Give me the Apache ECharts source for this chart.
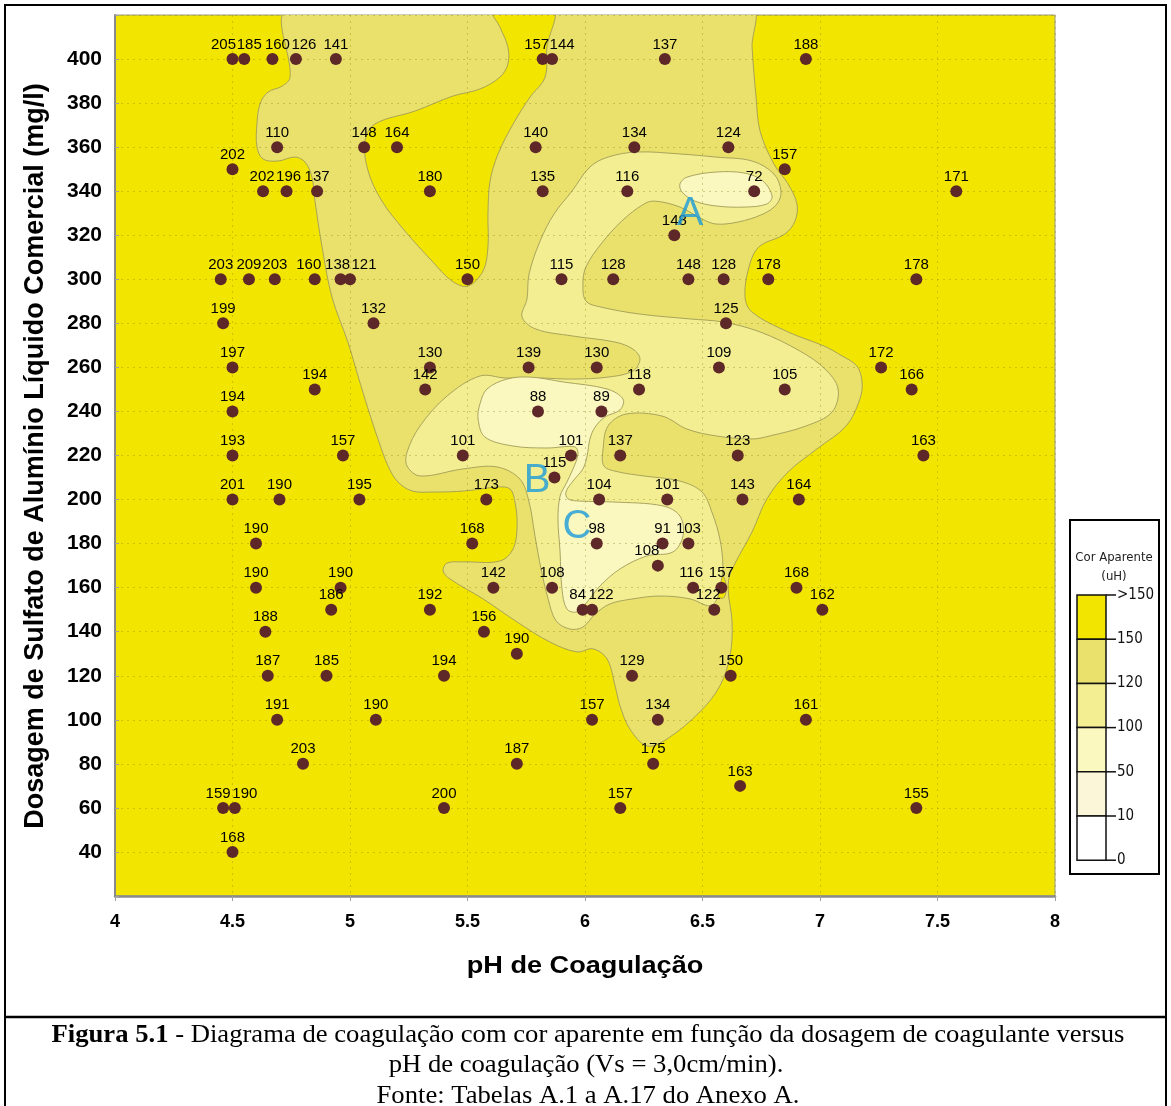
<!DOCTYPE html>
<html>
<head>
<meta charset="utf-8">
<script src="https://cdn.jsdelivr.net/npm/echarts@6/dist/echarts.min.js"></script>
<style>
  html, body { margin: 0; padding: 0; background: #ffffff; }
  #chart { width: 1171px; height: 1106px; }
</style>
</head>
<body>
<div id="chart"></div>
<script>
// ---- Ensaios: pH de coagulação, dosagem (mg/l) e cor aparente (uH) ----
const samplePH = [
  4.50, 4.55, 4.67, 4.77, 4.94, 5.82, 5.86, 6.34, 6.94,          // 400
  4.69, 5.06, 5.20, 5.79, 6.21, 6.61,                            // 360
  4.50, 6.85,                                                    // 350
  4.63, 4.73, 4.86, 5.34, 5.82, 6.18, 6.72, 7.58,                // 340
  6.38,                                                          // 320
  4.45, 4.57, 4.68, 4.85, 4.96, 5.00, 5.50, 5.90, 6.12, 6.44, 6.59, 6.78, 7.41, // 300
  4.46, 5.10, 6.60,                                              // 280
  4.50, 5.34, 5.76, 6.05, 6.57, 7.26,                            // 260
  4.85, 5.32, 6.23, 6.85, 7.39,                                  // 250
  4.50, 5.80, 6.07,                                              // 240
  4.50, 4.97, 5.48, 5.94, 6.15, 6.65, 7.44,                      // 220
  5.87,                                                          // 210
  4.50, 4.70, 5.04, 5.58, 6.06, 6.35, 6.67, 6.91,                // 200
  4.60, 5.52, 6.05, 6.33, 6.44,                                  // 180
  6.31,                                                          // 170
  4.60, 4.96, 5.61, 5.86, 6.46, 6.58, 6.90,                      // 160
  4.92, 5.34, 5.99, 6.03, 6.55, 7.01,                            // 150
  4.64, 5.57,                                                    // 140
  5.71,                                                          // 130
  4.65, 4.90, 5.40, 6.20, 6.62,                                  // 120
  4.69, 5.11, 6.03, 6.31, 6.94,                                  // 100
  4.80, 5.71, 6.29,                                              // 80
  6.66,                                                          // 70
  4.46, 4.51, 5.40, 6.15, 7.41,                                  // 60
  4.50                                                           // 40
];
const sampleDose = [
  400, 400, 400, 400, 400, 400, 400, 400, 400,
  360, 360, 360, 360, 360, 360,
  350, 350,
  340, 340, 340, 340, 340, 340, 340, 340,
  320,
  300, 300, 300, 300, 300, 300, 300, 300, 300, 300, 300, 300, 300,
  280, 280, 280,
  260, 260, 260, 260, 260, 260,
  250, 250, 250, 250, 250,
  240, 240, 240,
  220, 220, 220, 220, 220, 220, 220,
  210,
  200, 200, 200, 200, 200, 200, 200, 200,
  180, 180, 180, 180, 180,
  170,
  160, 160, 160, 160, 160, 160, 160,
  150, 150, 150, 150, 150, 150,
  140, 140,
  130,
  120, 120, 120, 120, 120,
  100, 100, 100, 100, 100,
  80, 80, 80,
  70,
  60, 60, 60, 60, 60,
  40
];
const sampleColor = [
  205, 185, 160, 126, 141, 157, 144, 137, 188,
  110, 148, 164, 140, 134, 124,
  202, 157,
  202, 196, 137, 180, 135, 116, 72, 171,
  148,
  203, 209, 203, 160, 138, 121, 150, 115, 128, 148, 128, 178, 178,
  199, 132, 125,
  197, 130, 139, 130, 109, 172,
  194, 142, 118, 105, 166,
  194, 88, 89,
  193, 157, 101, 101, 137, 123, 163,
  115,
  201, 190, 195, 173, 104, 101, 143, 164,
  190, 168, 98, 91, 103,
  108,
  190, 190, 142, 108, 116, 157, 168,
  186, 192, 84, 122, 122, 162,
  188, 156,
  190,
  187, 185, 194, 129, 150,
  191, 190, 157, 134, 161,
  203, 187, 175,
  163,
  159, 190, 200, 157, 155,
  168
];

// ---- Isolinhas de cor aparente, [pH, dosagem] ----
// limite da faixa <= 150 uH
const iso150Outline = [
  [4.745, 423], [4.745, 391.8], [4.711, 387.7], [4.651, 385.0], [4.617, 379.6], [4.604, 370.5],
  [4.604, 360.1], [4.630, 354.6], [4.694, 353.7], [4.766, 355.5], [4.809, 353.2], [4.838, 346.4],
  [4.851, 335.5], [4.881, 314.7], [4.923, 292.0], [4.991, 271.5], [5.034, 256.1], [5.077, 241.1],
  [5.119, 227.5], [5.162, 215.2], [5.204, 208.0], [5.264, 203.9], [5.349, 203.4], [5.489, 203.9],
  [5.630, 205.7], [5.681, 204.8], [5.702, 198.9], [5.711, 188.0], [5.694, 177.6], [5.638, 172.1],
  [5.481, 171.7], [5.413, 171.2], [5.396, 167.6], [5.426, 163.9], [5.566, 154.9], [5.711, 144.4],
  [5.851, 135.3], [5.966, 130.8], [6.034, 132.2], [6.094, 127.6], [6.128, 115.4], [6.149, 106.3],
  [6.191, 95.8], [6.264, 88.1], [6.349, 91.3], [6.489, 103.6], [6.574, 115.4], [6.617, 129.0],
  [6.626, 144.4], [6.609, 159.4], [6.621, 167.1], [6.711, 185.3], [6.774, 200.3], [6.864, 212.5],
  [6.987, 223.0], [7.111, 233.4], [7.170, 245.7], [7.179, 253.4], [7.157, 260.6], [7.094, 265.2],
  [7.017, 269.7], [6.864, 276.1], [6.711, 285.1], [6.681, 292.0], [6.698, 305.6], [6.740, 314.7],
  [6.851, 320.6], [6.894, 326.5], [6.902, 334.2], [6.864, 343.3], [6.804, 352.3], [6.745, 367.3],
  [6.728, 382.7], [6.711, 405.4], [6.704, 423]
];
// faixa > 150 uH que desce do topo entre pH 5,1 e 5,9
const iso150Tongue = [
  [5.603, 423], [5.638, 414.5], [5.672, 405.4], [5.672, 397.7], [5.638, 391.8], [5.553, 386.4],
  [5.438, 383.2], [5.277, 376.4], [5.106, 370.5], [5.064, 362.8], [5.077, 349.2], [5.136, 335.5],
  [5.234, 321.9], [5.349, 308.3], [5.434, 299.2], [5.502, 296.9], [5.566, 303.8], [5.587, 314.7],
  [5.587, 329.6], [5.596, 344.6], [5.630, 356.9], [5.694, 370.5], [5.766, 382.7], [5.830, 391.8],
  [5.838, 405.4], [5.864, 423]
];
// pequena ilha > 150 uH junto ao ensaio de 157 uH
const iso150Spot = [
  [6.548, 160.5], [6.560, 164.5], [6.585, 165.5], [6.600, 161], [6.592, 155.5], [6.566, 155.8]
];
// limite da faixa <= 120 uH
const iso120Outline = [
  [6.221, 357.8], [6.404, 356.9], [6.557, 355.5], [6.711, 353.7], [6.804, 347.8], [6.834, 340.1],
  [6.817, 334.2], [6.757, 329.6], [6.651, 326.0], [6.557, 325.1], [6.498, 327.4], [6.404, 332.8],
  [6.298, 335.5], [6.251, 334.2], [6.157, 326.5], [6.068, 316.0], [6.004, 305.6], [5.991, 297.9],
  [6.004, 290.1], [6.068, 287.4], [6.234, 284.2], [6.447, 282.0], [6.587, 280.6], [6.745, 276.1],
  [6.915, 267.4], [7.021, 259.3], [7.077, 250.2], [7.051, 239.7], [6.940, 233.4], [6.787, 228.9],
  [6.711, 227.5], [6.557, 228.9], [6.434, 232.0], [6.328, 237.9], [6.174, 238.8], [6.098, 233.4],
  [6.077, 223.0], [6.081, 215.2], [6.145, 212.5], [6.251, 210.7], [6.404, 208.4], [6.498, 203.4],
  [6.540, 194.3], [6.574, 182.1], [6.587, 169.8], [6.579, 162.6], [6.562, 154.9], [6.532, 151.7],
  [6.447, 154.9], [6.319, 156.2], [6.204, 154.9], [6.106, 152.6], [6.043, 148.0], [5.991, 142.1],
  [5.936, 141.2], [5.877, 144.9], [5.843, 154.9], [5.813, 168.5], [5.787, 183.5], [5.762, 198.9],
  [5.723, 209.3], [5.626, 214.8], [5.481, 213.9], [5.298, 210.7], [5.243, 215.2], [5.243, 221.6],
  [5.298, 233.4], [5.413, 247.0], [5.553, 256.1], [5.660, 255.2], [5.809, 255.2], [5.945, 254.7],
  [6.098, 255.6], [6.204, 258.4], [6.234, 263.8], [6.204, 268.3], [6.128, 271.5], [5.945, 274.3],
  [5.791, 277.4], [5.732, 282.9], [5.753, 291.0], [5.762, 302.4], [5.809, 317.4], [5.868, 329.6],
  [5.945, 340.1], [6.021, 351.0], [6.098, 355.5]
];
// faixas <= 100 uH
const iso100Oval = [
  [6.404, 343.3], [6.434, 346.4], [6.557, 348.7], [6.681, 348.2], [6.757, 344.6], [6.796, 337.8],
  [6.774, 334.2], [6.681, 332.8], [6.557, 333.3], [6.468, 335.5], [6.413, 339.6]
];
const iso100Lobe = [
  [5.553, 243.4], [5.583, 250.2], [5.668, 254.7], [5.766, 255.6], [5.906, 253.4], [6.094, 250.2],
  [6.162, 245.6], [6.149, 240.7], [6.085, 237.5], [6.043, 232.9], [6.021, 227.5], [6.009, 219.8],
  [5.991, 213.9], [5.949, 208.4], [5.919, 203.4], [5.928, 200.3], [5.979, 199.3], [6.119, 198.9],
  [6.332, 197.1], [6.404, 192.5], [6.417, 183.5], [6.374, 176.2], [6.264, 174.4], [6.149, 168.5],
  [6.064, 160.8], [6.009, 153.5], [5.966, 149.0], [5.923, 150.3], [5.902, 159.4], [5.894, 176.2],
  [5.885, 191.2], [5.894, 201.6], [5.919, 207.1], [5.949, 213.9], [5.970, 220.7], [5.957, 223.9],
  [5.838, 223.4], [5.694, 224.3], [5.574, 228.4], [5.545, 236.6]
];

// regiões de destaque
const zoneLetters = [['A', 6.447, 329.6], ['B', 5.796, 208.4], ['C', 5.966, 187.5]];

// escala de cor aparente (uH)
const scaleLabels = ['>150', '150', '120', '100', '50', '10', '0'];
const scaleColors = ['#f2e600', '#e9e16b', '#f2ee91', '#faf7bf', '#fbf6d8', '#ffffff'];

// deslocamento horizontal (px) dos rótulos que se sobrepõem, por índice do ensaio
const labelShift = {
  0: -9, 1: 5, 2: 5, 3: 8, 5: -6, 6: 10,
  17: -1, 18: 2,
  29: -6, 30: -3, 31: 14,
  77: -11, 82: -2,
  87: -5, 88: 9, 89: -6,
  108: -5, 109: 10
};

const contourLayers = [
  { outline: iso150Outline, fill: scaleColors[1] },
  { outline: iso150Tongue, fill: scaleColors[0] },
  { outline: iso150Spot, fill: scaleColors[0] },
  { outline: iso120Outline, fill: scaleColors[2] },
  { outline: iso100Oval, fill: scaleColors[3] },
  { outline: iso100Lobe, fill: scaleColors[3] }
];

const samples = samplePH.map((ph, i) => {
  const item = { value: [ph, sampleDose[i], sampleColor[i]] };
  if (labelShift[i] !== undefined) item.label = { offset: [labelShift[i], 0] };
  return item;
});

// ---- legenda lateral ----
const barX = 1077, barW = 29, barTop = 595, segH = 44.2;
const legendFont = '"DejaVu Sans Condensed", "Liberation Sans Narrow", sans-serif';
const legendGraphics = [
  { type: 'rect', shape: { x: 1070, y: 520, width: 89, height: 354 },
    style: { fill: '#ffffff', stroke: '#000000', lineWidth: 2 } },
  { type: 'text', x: 1114, y: 558, style: { text: 'Cor Aparente', fill: '#222', align: 'center', verticalAlign: 'middle',
    font: '13px ' + legendFont } },
  { type: 'text', x: 1114, y: 577, style: { text: '(uH)', fill: '#222', align: 'center', verticalAlign: 'middle',
    font: '13px ' + legendFont } }
];
scaleColors.forEach((c, i) => {
  legendGraphics.push({ type: 'rect', shape: { x: barX, y: barTop + i * segH, width: barW, height: segH },
    style: { fill: c, stroke: '#111111', lineWidth: 1.5 } });
});
scaleLabels.forEach((t, i) => {
  const y = barTop + i * segH;
  legendGraphics.push({ type: 'line', shape: { x1: barX + barW, y1: y, x2: barX + barW + 10, y2: y },
    style: { stroke: '#111111', lineWidth: 1.5 } });
  legendGraphics.push({ type: 'text', x: barX + barW + 11, y: y, style: { text: t, fill: '#111', align: 'left',
    verticalAlign: 'middle', font: '15px ' + legendFont } });
});

const serifFont = '"Liberation Serif", "Times New Roman", serif';
const sansBold = 'bold 24px "Liberation Sans", Arial, sans-serif';

const chart = echarts.init(document.getElementById('chart'), null, { renderer: 'canvas' });

chart.setOption({
  animation: false,
  backgroundColor: '#ffffff',
  grid: {
    left: 115, right: 116, top: 15, bottom: 210,
    show: true, backgroundColor: scaleColors[0], borderColor: '#9b9b7a', borderWidth: 1
  },
  xAxis: {
    type: 'value', min: 4, max: 8, interval: 0.5, z: 3,
    axisLine: { show: true, lineStyle: { color: '#8a8a8a', width: 2.5 } },
    axisTick: { show: true, length: 5, lineStyle: { color: '#a0a0a0' } },
    axisLabel: { margin: 17, color: '#000', fontSize: 18, fontWeight: 'bold', fontFamily: 'Liberation Sans' },
    splitLine: { show: true, lineStyle: { color: 'rgba(120,108,0,0.3)', type: [2, 4], width: 1 } }
  },
  yAxis: {
    type: 'value', min: 20, max: 420, interval: 20, z: 3,
    axisLine: { show: true, lineStyle: { color: '#8a8a8a', width: 2 } },
    axisTick: { show: true, inside: true, length: 4, lineStyle: { color: '#a0a0a0' } },
    axisLabel: {
      margin: 13, color: '#000', fontSize: 21, fontWeight: 'bold', fontFamily: 'Liberation Sans',
      formatter: v => (v < 40 || v > 400) ? '' : String(v)
    },
    splitLine: { show: true, lineStyle: { color: 'rgba(120,108,0,0.3)', type: [2, 4], width: 1 } }
  },
  series: [
    {
      type: 'custom', coordinateSystem: 'cartesian2d', z: 1, silent: true,
      data: contourLayers.map(() => [6, 220]),
      renderItem(params, api) {
        const layer = contourLayers[params.dataIndex];
        const cs = params.coordSys;
        return {
          type: 'polygon',
          z2: params.dataIndex,
          shape: { points: layer.outline.map(p => api.coord(p)), smooth: 0.35 },
          style: { fill: layer.fill, stroke: '#a29c58', lineWidth: 0.9 },
          clipPath: { type: 'rect', shape: { x: cs.x, y: cs.y, width: cs.width, height: cs.height } }
        };
      }
    },
    {
      type: 'scatter', z: 4, silent: true,
      symbol: 'circle', symbolSize: 12,
      itemStyle: { color: '#5e2828', opacity: 1 },
      data: samples,
      label: {
        show: true, position: 'top', distance: 1,
        formatter: p => String(p.value[2]),
        color: '#000', fontSize: 15, fontFamily: 'Liberation Sans'
      }
    },
    {
      type: 'scatter', z: 5, silent: true, symbolSize: 0,
      data: zoneLetters.map(d => ({ name: d[0], value: [d[1], d[2]] })),
      label: {
        show: true, position: 'inside', formatter: '{b}',
        color: '#1b9ad9', fontSize: 40, fontFamily: 'Liberation Sans'
      }
    }
  ],
  graphic: [
    { type: 'rect', shape: { x: 5, y: 5, width: 1161, height: 1110 },
      style: { fill: 'none', stroke: '#000', lineWidth: 2 } },
    { type: 'line', shape: { x1: 5, y1: 1017, x2: 1166, y2: 1017 },
      style: { stroke: '#000', lineWidth: 2.5 } },
    { type: 'text', x: 36, y: 456, rotation: Math.PI / 2,
      style: { text: 'Dosagem de Sulfato de Alumínio Líquido Comercial (mg/l)', fill: '#000',
        align: 'center', verticalAlign: 'middle', font: 'bold 27px "Liberation Sans", Arial, sans-serif' } },
    { type: 'text', x: 585, y: 966, scaleX: 1.13,
      style: { text: 'pH de Coagulação', fill: '#000', align: 'center', verticalAlign: 'middle', font: sansBold } },
    { type: 'text', x: 588, y: 1035, scaleX: 1.025,
      style: { text: '{b|Figura 5.1} - Diagrama de coagulação com cor aparente em função da dosagem de coagulante versus',
        align: 'center', verticalAlign: 'middle', fill: '#000', font: '26px ' + serifFont,
        rich: { b: { font: 'bold 26px ' + serifFont, fill: '#000' } } } },
    { type: 'text', x: 586, y: 1065, scaleX: 1.025,
      style: { text: 'pH de coagulação (Vs = 3,0cm/min).', align: 'center', verticalAlign: 'middle', fill: '#000',
        font: '26px ' + serifFont } },
    { type: 'text', x: 588, y: 1096, scaleX: 1.025,
      style: { text: 'Fonte: Tabelas A.1 a A.17 do Anexo A.', align: 'center', verticalAlign: 'middle', fill: '#000',
        font: '26px ' + serifFont } }
  ].concat(legendGraphics)
});
</script>
</body>
</html>
